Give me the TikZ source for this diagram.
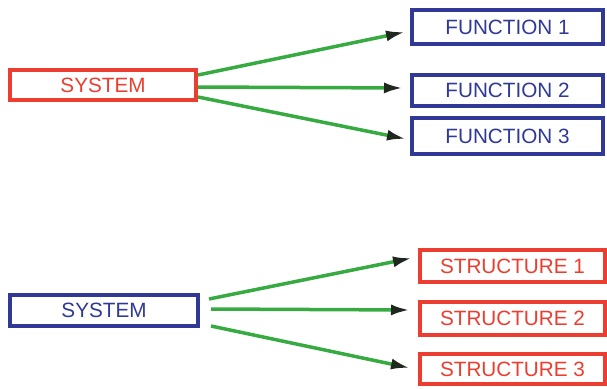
\documentclass[tikz,border=0pt]{standalone}
\usepackage{fontspec}
\setmainfont{Liberation Sans}
\usetikzlibrary{arrows.meta}
\definecolor{box_red}{RGB}{235,62,48}
\definecolor{box_blue}{RGB}{48,58,150}
\definecolor{edge_green}{RGB}{55,170,65}
\definecolor{tip_dark}{RGB}{30,40,30}

\begin{document}
\begin{tikzpicture}[x=1pt,y=-1pt,line width=3.5pt,
    >={Latex[length=19pt,width=11pt,color=tip_dark]}]
    \tikzstyle{box}=[draw, line width=4pt, rectangle, inner sep=0pt, fill=white,
        font=\fontsize{20.7}{24}\selectfont]
    \tikzstyle{redbox}=[box, draw=box_red, text=box_red]
    \tikzstyle{bluebox}=[box, draw=box_blue, text=box_blue]
    \tikzstyle{link}=[->, draw=edge_green]
    \useasboundingbox (0,0) rectangle (607,388);

    % functions
    \node[redbox, minimum width=186pt, minimum height=30pt]  (sysf) at (103,85)    {SYSTEM};
    \node[bluebox, minimum width=191pt, minimum height=34pt] (fun1) at (507.5,27)  {FUNCTION 1};
    \node[bluebox, minimum width=191pt, minimum height=31pt] (fun2) at (507.5,90.5){FUNCTION 2};
    \node[bluebox, minimum width=191pt, minimum height=36pt] (fun3) at (507.5,136) {FUNCTION 3};

    % structures
    \node[bluebox, minimum width=188pt, minimum height=31pt] (syss) at (104,310.5)  {SYSTEM};
    \node[redbox, minimum width=185pt, minimum height=32pt]  (str1) at (512.5,266)  {STRUCTURE 1};
    \node[redbox, minimum width=185pt, minimum height=33pt]  (str2) at (512.5,318.5){STRUCTURE 2};
    \node[redbox, minimum width=185pt, minimum height=30pt]  (str3) at (512.5,369)  {STRUCTURE 3};

    \draw[link] ([yshift=10pt]sysf.east)  -- ([xshift=-5pt,yshift=-5pt]fun1.west);
    \draw[link] ([yshift=-2pt]sysf.east)  -- ([xshift=-7pt,yshift=2.5pt]fun2.west);
    \draw[link] ([yshift=-12pt]sysf.east) -- ([xshift=-4pt,yshift=-3pt]fun3.west);

    \draw[link] ([xshift=9pt,yshift=11.5pt]syss.east)  -- ([xshift=-6pt,yshift=8pt]str1.west);
    \draw[link] ([xshift=11pt,yshift=1.5pt]syss.east)  -- ([xshift=-8pt,yshift=8.5pt]str2.west);
    \draw[link] ([xshift=11pt,yshift=-15.5pt]syss.east) -- ([xshift=-8pt,yshift=1pt]str3.west);
  \end{tikzpicture}
\end{document}
